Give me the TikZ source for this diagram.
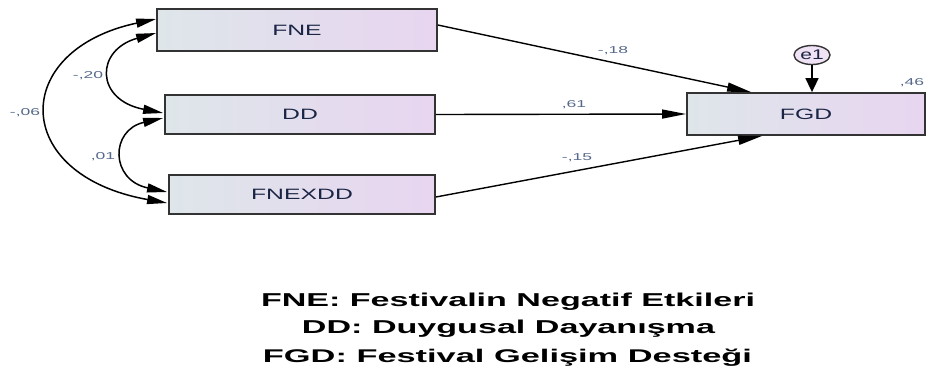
\documentclass[tikz,border=0pt]{standalone}
\usepackage{fontspec}
\usepackage{graphicx}
\setmainfont{Liberation Sans}
\usetikzlibrary{arrows.meta,calc,shapes.geometric}
\definecolor{boxl}{HTML}{DEE6EA}
\definecolor{boxr}{HTML}{E8D5F0}
\definecolor{boxedge}{HTML}{333333}
\definecolor{boxtext}{HTML}{1A2444}
\definecolor{labtext}{HTML}{56698A}
\newcommand{\bt}[1]{\scalebox{1.65}[1]{\fontsize{15}{15}\selectfont #1}}
\newcommand{\lb}[1]{\scalebox{1.75}[1]{\fontsize{10}{10}\selectfont #1}}
\tikzset{
  htip/.tip={Triangle[length=24pt,width=9pt]},
  ctip/.tip={Triangle[length=20pt,width=9pt]},
  vtip/.tip={Triangle[length=14pt,width=13pt]},
  varbox/.style={draw=boxedge, line width=1.8pt, left color=boxl, right color=boxr,
    inner sep=0pt, text=boxtext},
  path/.style={line width=1.4pt, -htip},
  vpath/.style={line width=1.6pt, -vtip},
  cov/.style={line width=1.5pt, ctip-ctip},
  lab/.style={text=labtext, inner sep=0pt},
  legend/.style={font=\bfseries, inner sep=0pt, anchor=base}
}
\begin{document}
\begin{tikzpicture}[x=1pt,y=-1pt]
\useasboundingbox (0,0) rectangle (928,368);
\node[varbox, minimum width=280pt, minimum height=42pt] (fne) at (297,30) {\bt{FNE}};
\node[varbox, minimum width=270pt, minimum height=39pt] (dd) at (300,114.5) {\bt{DD}};
\node[varbox, minimum width=266pt, minimum height=39pt] (fnexdd) at (302,194.5) {\bt{FNEXDD}};
\node[varbox, minimum width=238pt, minimum height=42pt] (fgd) at (806,114) {\bt{FGD}};
\node[ellipse, draw=boxedge, line width=1.4pt, fill=boxr!70!white, inner sep=0pt,
  minimum width=36pt, minimum height=19pt, text=boxtext] (e1) at (812,55)
  {\scalebox{1.5}[1]{\fontsize{14}{14}\selectfont e1}};
% regression paths
\draw[path] ($(fne.east)+(0,-5)$) -- ($(fgd.north west)+(65,0)$);
\draw[path] (dd.east) -- (fgd.west);
\draw[path] ($(fnexdd.east)+(0,2.5)$) -- ($(fgd.south west)+(76,0)$);
\draw[vpath] (e1.south) -- (e1.south |- fgd.north);
% covariances
\draw[cov] ($(fne.west)+(0,3)$) .. controls (95,50) and (95,100) .. ($(dd.west)+(-1,-1.5)$);
\draw[cov] ($(dd.west)+(-1,3.5)$) .. controls (110,130) and (110,180) .. ($(fnexdd.west)+(-1,-2.5)$);
\draw[cov] ($(fne.west)+(0,-11)$) .. controls (10,50) and (10,175) .. ($(fnexdd.west)+(-1,8.5)$);
% labels
\node[lab] (l18) at (613,51) {\lb{-,18}};
\node[lab] (l61) at (574,105) {\lb{,61}};
\node[lab] (l15) at (577,158) {\lb{-,15}};
\node[lab] (l20) at (88,76) {\lb{-,20}};
\node[lab] (l06) at (25,113) {\lb{-,06}};
\node[lab] (l01) at (103,157) {\lb{,01}};
\node[lab] (l46) at (912,83) {\lb{,46}};
% legend
\node[legend] (g1) at (508,306) {\resizebox{494pt}{13.5pt}{FNE: Festivalin Negatif Etkileri}};
\node[legend] (g2) at (508.5,333) {\resizebox{413pt}{13.5pt}{DD: Duygusal Dayanışma}};
\node[legend] (g3) at (507.5,362) {\resizebox{489pt}{13.5pt}{FGD: Festival Gelişim Desteği}};
\end{tikzpicture}
\end{document}
